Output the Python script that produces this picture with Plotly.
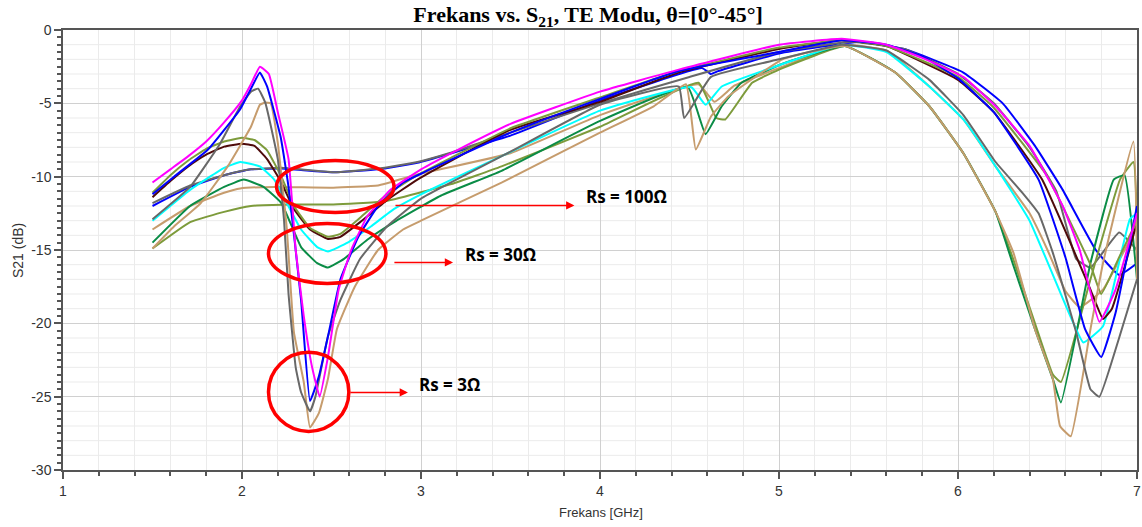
import plotly.graph_objects as go

# ---------------- data ----------------
# Rs = 3 ohm
f_rs3_t0 = [1.5,1.6,1.7,1.8,1.9,2.0,2.05,2.1,2.15,2.2,2.26,2.3,2.345,2.39,2.434,2.48,2.54,2.61,2.7,2.83,3.0,3.2,3.5,4.0,4.44,5.0,5.35,5.6,5.8,6.03,6.21,6.4,6.585,6.68,6.79,6.88,7.0]
s_rs3_t0 = [-10.4,-9.5,-8.6,-7.6,-6.3,-4.8,-3.7,-2.5,-3.0,-5.6,-8.8,-15.0,-19.5,-22.9,-25.0,-22.3,-17.7,-15.0,-12.7,-10.9,-9.5,-8.2,-6.4,-4.2,-2.7,-1.0,-0.6,-1.0,-1.9,-3.2,-5.2,-7.9,-12.0,-15.0,-19.9,-17.7,-12.5]

f_rs3_t15 = [1.5,1.62,1.81,1.99,2.05,2.1,2.14,2.216,2.26,2.33,2.38,2.43,2.48,2.55,2.65,2.76,2.9,3.0,3.5,4.0,4.44,5.0,5.35,5.6,5.8,6.0,6.2,6.45,6.6,6.71,6.8,6.88,7.0]
s_rs3_t15 = [-11.2,-10.0,-8.15,-5.4,-4.0,-2.9,-3.85,-7.3,-10.7,-18.4,-25.3,-23.6,-20.9,-17.0,-14.1,-12.0,-10.4,-9.8,-7.0,-4.7,-2.8,-1.5,-0.7,-1.0,-1.8,-3.3,-5.6,-10.2,-15.5,-20.4,-22.3,-19.3,-12.0]

f_rs3_t30 = [1.5,1.71,1.88,1.99,2.05,2.09,2.13,2.2,2.235,2.26,2.3,2.33,2.38,2.41,2.48,2.55,2.66,2.81,3.0,3.5,4.0,4.44,4.47,4.62,5.0,5.35,5.6,5.84,6.03,6.21,6.36,6.45,6.53,6.66,6.74,6.79,6.9,7.0]
s_rs3_t30 = [-12.9,-10.7,-7.7,-5.2,-4.2,-4.0,-4.95,-8.8,-13.0,-18.0,-23.0,-24.7,-26.0,-25.0,-20.9,-18.4,-15.6,-13.4,-11.5,-8.3,-5.1,-3.85,-6.0,-3.2,-2.0,-1.0,-1.4,-3.4,-5.8,-9.0,-11.1,-12.5,-15.2,-20.6,-24.5,-25.0,-21.0,-17.0]

f_rs3_t45 = [1.5,1.62,1.77,1.92,2.05,2.1,2.13,2.16,2.2,2.25,2.29,2.345,2.38,2.43,2.48,2.53,2.63,2.76,2.9,3.0,3.45,4.0,4.3,4.48,4.535,4.62,4.72,5.02,5.37,5.65,5.84,6.03,6.21,6.31,6.43,6.53,6.57,6.63,6.74,6.81,6.98,7.0]
s_rs3_t45 = [-14.9,-13.4,-11.8,-9.3,-6.6,-5.1,-4.95,-5.0,-7.7,-13.5,-20.6,-24.0,-27.1,-26.1,-23.8,-20.4,-17.5,-15.0,-13.6,-13.0,-10.4,-7.0,-5.2,-3.7,-8.15,-5.9,-4.5,-2.0,-1.1,-2.9,-5.2,-8.4,-12.4,-15.2,-20.4,-23.8,-27.0,-27.7,-20.4,-15.9,-7.6,-17.0]

# Rs = 30 ohm
f_rs30_t0 = [1.5,1.6,1.7,1.8,1.9,2.0,2.07,2.14,2.22,2.29,2.38,2.48,2.55,2.66,2.81,2.98,3.17,3.5,4.0,4.44,5.0,5.35,5.6,6.0,6.2,6.5,6.74,6.8,6.9,7.0]
s_rs30_t0 = [-11.1,-9.9,-8.9,-8.1,-7.6,-7.35,-7.5,-8.2,-10.0,-12.0,-13.5,-14.1,-13.9,-12.8,-11.2,-9.9,-8.7,-6.7,-4.6,-2.8,-1.2,-0.7,-1.1,-3.2,-5.3,-10.0,-16.0,-18.0,-15.5,-13.0]

f_rs30_t15 = [1.5,1.6,1.7,1.8,1.9,2.0,2.07,2.14,2.22,2.29,2.38,2.48,2.55,2.66,2.81,2.98,3.17,3.5,4.0,4.44,5.0,5.35,5.6,6.0,6.2,6.47,6.74,6.81,6.86,7.0]
s_rs30_t15 = [-11.4,-10.3,-9.3,-8.5,-7.95,-7.75,-7.9,-8.8,-10.4,-12.2,-13.6,-14.25,-14.1,-13.1,-11.6,-10.2,-8.9,-6.8,-4.9,-2.9,-1.3,-0.7,-1.1,-3.4,-5.6,-10.2,-17.7,-19.7,-19.0,-13.1]

f_rs30_t30 = [1.5,1.71,1.9,1.99,2.1,2.18,2.22,2.33,2.42,2.48,2.59,2.72,2.85,3.0,3.45,4.0,4.51,4.59,4.68,5.0,5.35,5.6,5.84,6.03,6.21,6.4,6.62,6.70,6.81,6.96,7.0]
s_rs30_t30 = [-13.0,-10.9,-9.4,-9.0,-9.3,-10.2,-11.1,-13.6,-14.8,-15.1,-14.5,-13.4,-12.2,-11.2,-8.6,-5.5,-3.9,-5.1,-3.85,-2.4,-1.0,-1.5,-3.85,-6.1,-9.3,-13.0,-19.3,-21.3,-20.2,-12.9,-12.5]

f_rs30_t45 = [1.5,1.71,1.9,2.01,2.12,2.22,2.33,2.42,2.48,2.57,2.70,2.85,3.11,3.45,4.0,4.49,4.59,4.68,4.79,5.02,5.37,5.65,5.84,6.03,6.21,6.305,6.43,6.53,6.575,6.74,6.87,6.93,7.0]
s_rs30_t45 = [-14.5,-12.0,-10.7,-10.2,-10.7,-11.8,-14.8,-15.9,-16.2,-15.6,-14.3,-13.1,-11.3,-9.6,-6.2,-3.9,-7.1,-5.2,-3.6,-2.3,-1.1,-2.9,-5.2,-8.4,-12.4,-15.9,-20.4,-23.8,-25.4,-15.9,-10.2,-9.9,-17.0]

# Rs = 100 ohm
f_rs100_t0 = [1.5,1.71,1.9,2.05,2.22,2.51,2.76,2.98,3.17,3.5,4.0,4.5,5.0,5.4,5.7,6.0,6.2,6.4,6.55,6.66,6.74,6.9,7.0]
s_rs100_t0 = [-11.8,-10.6,-9.9,-9.5,-9.4,-9.7,-9.45,-9.0,-8.35,-7.0,-5.0,-3.2,-1.5,-0.8,-1.3,-3.0,-5.0,-8.0,-11.0,-15.6,-16.2,-13.8,-15.0]

f_rs100_t15 = [1.5,1.71,1.9,2.05,2.22,2.51,2.76,2.98,3.17,3.5,4.0,4.57,4.62,4.66,5.0,5.46,5.7,6.03,6.25,6.43,6.585,6.77,6.9,7.0]
s_rs100_t15 = [-12.0,-10.7,-9.9,-9.5,-9.45,-9.7,-9.5,-9.05,-8.4,-7.2,-4.8,-2.6,-3.0,-2.8,-1.6,-0.8,-1.3,-2.9,-5.0,-7.9,-10.9,-15.0,-16.7,-15.9]

f_rs100_t30 = [1.5,1.71,1.9,1.99,2.18,2.51,2.76,2.98,3.5,4.0,4.55,4.64,4.75,5.0,5.35,5.6,5.84,6.03,6.21,6.4,6.5,6.6,6.68,6.81,6.99,7.0]
s_rs100_t30 = [-13.6,-12.0,-11.1,-10.8,-10.7,-10.75,-10.6,-9.85,-8.4,-5.8,-3.7,-4.9,-3.8,-2.6,-1.0,-1.4,-3.85,-6.1,-9.3,-12.5,-15.0,-17.8,-18.9,-17.7,-13.6,-13.4]

f_rs100_t45 = [1.5,1.71,1.9,2.05,2.27,2.51,2.79,3.17,3.45,4.0,4.55,4.65,4.70,4.85,5.02,5.37,5.65,5.84,6.03,6.21,6.305,6.43,6.53,6.575,6.74,6.905,6.98,7.0]
s_rs100_t45 = [-14.9,-13.1,-12.4,-12.0,-11.9,-11.9,-11.7,-10.5,-9.3,-6.6,-3.6,-6.0,-6.1,-3.6,-2.6,-1.1,-2.9,-5.2,-8.4,-12.4,-15.5,-20.0,-23.5,-24.0,-17.0,-10.2,-9.0,-13.0]

x_ticks = [1, 2, 3, 4, 5, 6, 7]
y_ticks = [0, -5, -10, -15, -20, -25, -30]

# ---------------- styling ----------------
MAGENTA = "#FF00FF"
BLUE = "#0000FF"
GRAY = "#686868"
TAN = "#C69C6D"
OLIVE = "#7D9B3B"
BROWN = "#4E0A0A"
CYAN = "#00FFFF"
GREEN = "#0A8C46"

series = [
    (f_rs100_t15, s_rs100_t15, BLUE),
    (f_rs100_t0, s_rs100_t0, GRAY),
    (f_rs100_t30, s_rs100_t30, TAN),
    (f_rs100_t45, s_rs100_t45, OLIVE),
    (f_rs30_t45, s_rs30_t45, GREEN),
    (f_rs30_t30, s_rs30_t30, CYAN),
    (f_rs30_t15, s_rs30_t15, BROWN),
    (f_rs30_t0, s_rs30_t0, OLIVE),
    (f_rs3_t45, s_rs3_t45, TAN),
    (f_rs3_t30, s_rs3_t30, GRAY),
    (f_rs3_t15, s_rs3_t15, BLUE),
    (f_rs3_t0, s_rs3_t0, MAGENTA),
]

fig = go.Figure()
for fx, sy, col in series:
    fig.add_trace(go.Scatter(x=fx, y=sy, mode="lines",
                             line=dict(color=col, width=2, shape="spline", smoothing=0.35),
                             showlegend=False, hoverinfo="skip", cliponaxis=True))

# minor horizontal grid every 1 dB
shapes = []
for v in range(-29, 0):
    if v % 5 != 0:
        shapes.append(dict(type="line", xref="paper", yref="y", x0=0, x1=1, y0=v, y1=v,
                           line=dict(color="#EBEBEB", width=1), layer="below"))

RED = "#FF0000"
ellipses = [
    (2.193, 2.849, -8.90, -12.44),
    (2.148, 2.804, -13.19, -17.28),
    (2.148, 2.597, -21.98, -27.37),
]
for x0, x1, y0, y1 in ellipses:
    shapes.append(dict(type="circle", xref="x", yref="y", x0=x0, x1=x1, y0=y0, y1=y1,
                       line=dict(color=RED, width=3.5), layer="above"))

annotations = []
arrows = [
    (2.849, 3.857, -11.96),
    (2.843, 3.179, -15.85),
    (2.597, 2.927, -24.71),
]
for xt, xh, yy in arrows:
    annotations.append(dict(x=xh, y=yy, ax=xt, ay=yy, xref="x", yref="y", axref="x", ayref="y",
                            text="", showarrow=True, arrowhead=2, arrowsize=1.1, arrowwidth=1.5,
                            arrowcolor=RED, standoff=0, startstandoff=0))

labels = [
    ("Rs = 100Ω", 3.913, -11.35),
    ("Rs = 30Ω", 3.235, -15.3),
    ("Rs = 3Ω", 2.978, -24.16),
]
for txt, lx, ly in labels:
    annotations.append(dict(x=lx, y=ly, xref="x", yref="y", text="<b>" + txt + "</b>",
                            showarrow=False, xanchor="left", yanchor="middle",
                            font=dict(family="Open Sans, Lato, sans-serif", size=17, color="black")))

# axis titles
annotations.append(dict(x=-0.0419, y=0.5, xref="paper", yref="paper", text="S21 (dB)",
                        textangle=-90, showarrow=False, xanchor="center", yanchor="middle",
                        font=dict(family="Liberation Sans, Arial, sans-serif", size=14, color="#333")))
annotations.append(dict(x=0.501, y=-0.0977, xref="paper", yref="paper", text="Frekans [GHz]",
                        showarrow=False, xanchor="center", yanchor="middle",
                        font=dict(family="Liberation Sans, Arial, sans-serif", size=13, color="#333")))

fig.update_layout(
    width=1142, height=527,
    margin=dict(l=63, r=5, t=30, b=57),
    paper_bgcolor="white", plot_bgcolor="white",
    title=dict(text="<b>Frekans vs. S<sub>21</sub>, TE Modu, θ=[0°-45°]</b>",
               x=0.515, xanchor="center", y=0.972, yanchor="middle", xref="container", yref="container",
               font=dict(family="Liberation Serif, Times New Roman, serif", size=22, color="black")),
    shapes=shapes,
    annotations=annotations,
)

fig.update_xaxes(range=[1, 7], tickvals=x_ticks, ticktext=[str(v) for v in x_ticks],
                 showgrid=True, gridcolor="#D0D0D0", gridwidth=1, zeroline=False, automargin=False,
                 showline=True, linecolor="#555", linewidth=1.5, mirror=True,
                 ticks="outside", ticklen=7, tickcolor="#555", tickwidth=1.5,
                 tickfont=dict(family="Liberation Sans, Arial, sans-serif", size=14, color="#333"),
                 minor=dict(dtick=0.2, ticks="outside", ticklen=4, tickcolor="#555",
                            showgrid=True, gridcolor="#EBEBEB", gridwidth=1))
fig.update_yaxes(range=[-30, 0], tickvals=y_ticks, ticktext=[str(v) for v in y_ticks],
                 showgrid=True, gridcolor="#D0D0D0", gridwidth=1, zeroline=False, automargin=False,
                 showline=True, linecolor="#555", linewidth=1.5, mirror=True,
                 ticks="outside", ticklen=7, tickcolor="#555", tickwidth=1.5,
                 tickfont=dict(family="Liberation Sans, Arial, sans-serif", size=14, color="#333"),
                 minor=dict(dtick=0.5, ticks="outside", ticklen=4, tickcolor="#555", showgrid=False))

fig.write_html("out.html", config={"displayModeBar": False},
               post_script="document.body.style.margin='0';document.body.style.overflow='hidden';")
